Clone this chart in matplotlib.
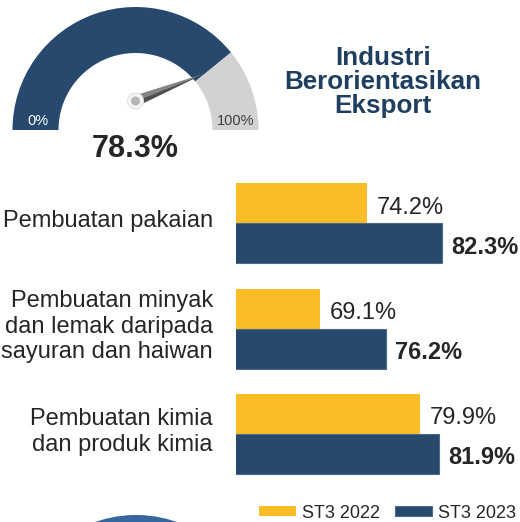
import numpy as np
import matplotlib.pyplot as plt
from matplotlib.patches import Wedge, Circle, Polygon

plt.rcParams['font.family'] = ['Liberation Sans', 'DejaVu Sans']

gauge_value = 78.3
gauge_labels = ['0%', '100%']
title = 'Industri\nBerorientasikan\nEksport'

categories = ['Pembuatan pakaian',
              'Pembuatan minyak\ndan lemak daripada\nsayuran dan haiwan',
              'Pembuatan kimia\ndan produk kimia']
st3_2022 = [74.2, 69.1, 79.9]
st3_2023 = [82.3, 76.2, 81.9]
series_names = ['ST3 2022', 'ST3 2023']

YELLOW = '#fbbd26'
NAVY = '#26496d'
GREY = '#d3d2d2'
TEXT = '#262626'

fig = plt.figure(figsize=(5.2, 5.22), dpi=100)

# pixel-unit layer for the gauge and the header
bg = fig.add_axes([0, 0, 1, 1])
bg.set_xlim(0, 520)
bg.set_ylim(0, 522)
bg.axis('off')

cx, cy, r_out, r_in = 135.5, 392, 123, 77
split = 180 * (1 - gauge_value / 100)
bg.add_patch(Wedge((cx, cy), r_out, split, 180, width=r_out - r_in, color=NAVY, lw=0))
bg.add_patch(Wedge((cx, cy), r_out, 0, split, width=r_out - r_in, color=GREY, lw=0))

# needle
piv = np.array([cx, cy + 29])
tip = np.array([cx + 90 * np.cos(np.radians(split)), cy + 90 * np.sin(np.radians(split))])
d = tip - piv
n = np.array([-d[1], d[0]]) / np.hypot(*d)
bg.add_patch(Polygon([piv + 5.5 * n, piv, tip], closed=True, fc='#858585', lw=0))
bg.add_patch(Polygon([piv, piv - 5.5 * n, tip], closed=True, fc='#4f4f4f', lw=0))
bg.add_patch(Circle(piv, 8, fc='#f4f4f4', ec='#e2e2e2', lw=0.8))
bg.add_patch(Circle(piv, 4.5, fc='#b5b5b5', lw=0))

bg.text(38, 401, gauge_labels[0], color='white', fontsize=10.5, ha='center', va='center')
bg.text(236, 401, gauge_labels[1], color='#404040', fontsize=10.5, ha='center', va='center')
bg.text(135, 373, f'{gauge_value}%', color=TEXT, fontsize=22, weight='bold',
        ha='center', va='center')
bg.text(383, 440, title, color='#1f3f60', fontsize=18.7, weight='bold',
        ha='center', va='center', linespacing=0.98)

# next panel peeking in at the bottom
bg.add_patch(Circle((136, -116), 123, fc='#3767a1', lw=0))

# bars
ax = fig.add_axes([236 / 520, 1 - 490 / 522, 284 / 520, 320 / 522])
y = np.arange(len(categories))
h = 0.38
b1 = ax.barh(y - h / 2, st3_2022, height=h, color=YELLOW, lw=0)
b2 = ax.barh(y + h / 2, st3_2023, height=h, color=NAVY, edgecolor='#4d6b8a', lw=0.8)
ax.set_xlim(60, 90.67)
ax.set_ylim(2.532, -0.508)
ax.axis('off')

for i, (a, b) in enumerate(zip(st3_2022, st3_2023)):
    ax.annotate(f'{a}%', xy=(a, i - h / 2), xytext=(6.5, -7.5), textcoords='offset points',
                va='baseline', fontsize=17, color=TEXT)
    ax.annotate(f'{b}%', xy=(b, i + h / 2), xytext=(6.5, -7.5), textcoords='offset points',
                va='baseline', fontsize=17, color=TEXT, weight='bold')

for i, cat in enumerate(categories):
    ax.annotate(cat, xy=(0, i), xycoords=('axes fraction', 'data'), xytext=(-16.6, 1.5),
                textcoords='offset points', ha='right', va='center', multialignment='right',
                fontsize=17, color=TEXT, annotation_clip=False)

fig.legend(handles=[b1, b2], labels=series_names, ncol=2, loc='center left',
           bbox_to_anchor=(259 / 520, 1 - 513 / 522), frameon=False, fontsize=13,
           handlelength=2.05, handleheight=0.5, handletextpad=0.33, columnspacing=0.83,
           borderpad=0, borderaxespad=0, labelcolor=TEXT)

fig.savefig('out.png', dpi=100)
